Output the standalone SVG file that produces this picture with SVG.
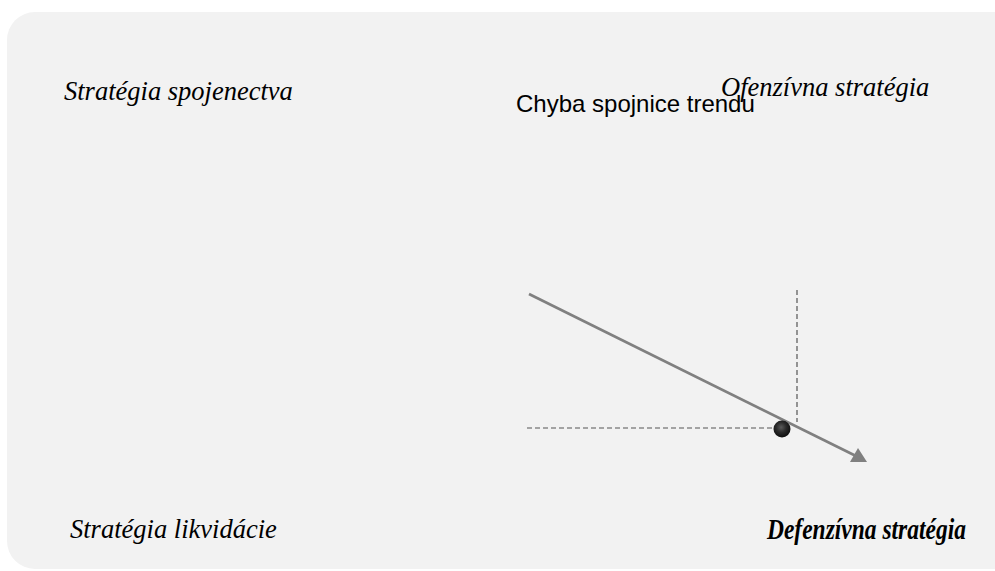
<svg xmlns="http://www.w3.org/2000/svg" width="995" height="571" viewBox="0 0 995 571">
  <defs>
    <style>
      .quad { font-family: "Liberation Serif", "Times New Roman", serif; font-style: italic; font-size: 26.5px; fill: #000; }
      .bold { font-weight: bold; font-size: 29px; }
      .note { font-family: "Liberation Sans", Arial, sans-serif; font-size: 24px; fill: #000; }
      .guide { stroke: #555; stroke-width: 1.2; stroke-dasharray: 5 3; fill: none; }
      .trend { stroke: #808080; stroke-width: 2.7; fill: none; }
    </style>
    <radialGradient id="ball" cx="0.45" cy="0.4" r="0.6">
      <stop offset="0" stop-color="#5a5a5a"/>
      <stop offset="0.5" stop-color="#2a2a2a"/>
      <stop offset="1" stop-color="#0d0d0d"/>
    </radialGradient>
  </defs>

  <rect width="995" height="571" fill="#ffffff"/>
  <!-- panel -->
  <rect id="panel" x="7" y="12" width="1015" height="557" rx="28" ry="28" fill="#f2f2f2"/>

  <!-- quadrant labels -->
  <g id="q-alliance"><text class="quad" x="64" y="100">Stratégia spojenectva</text></g>
  <g id="q-offensive"><text class="quad" x="721" y="96">Ofenzívna stratégia</text></g>
  <g id="q-liquidation"><text class="quad" x="70" y="538">Stratégia likvidácie</text></g>
  <!-- condensed bold label -->
  <g id="q-defensive" transform="translate(767 539) scale(0.81 1)"><text class="quad bold" x="0" y="0">Defenzívna stratégia</text></g>
  <g id="trend-note"><text class="note" x="516" y="112">Chyba spojnice trendu</text></g>

  <!-- connectors -->
  <g id="connectors">
    <line class="guide" x1="797" y1="290" x2="797" y2="422"/>
    <line class="guide" x1="527" y1="428" x2="776" y2="428"/>
    <line class="trend" x1="529" y1="294" x2="856" y2="456"/>
    <polygon points="867,462 850,462 858,448" fill="#808080"/>
  </g>

  <g id="position">
    <circle cx="782" cy="429" r="8.5" fill="url(#ball)"/>
  </g>
</svg>
